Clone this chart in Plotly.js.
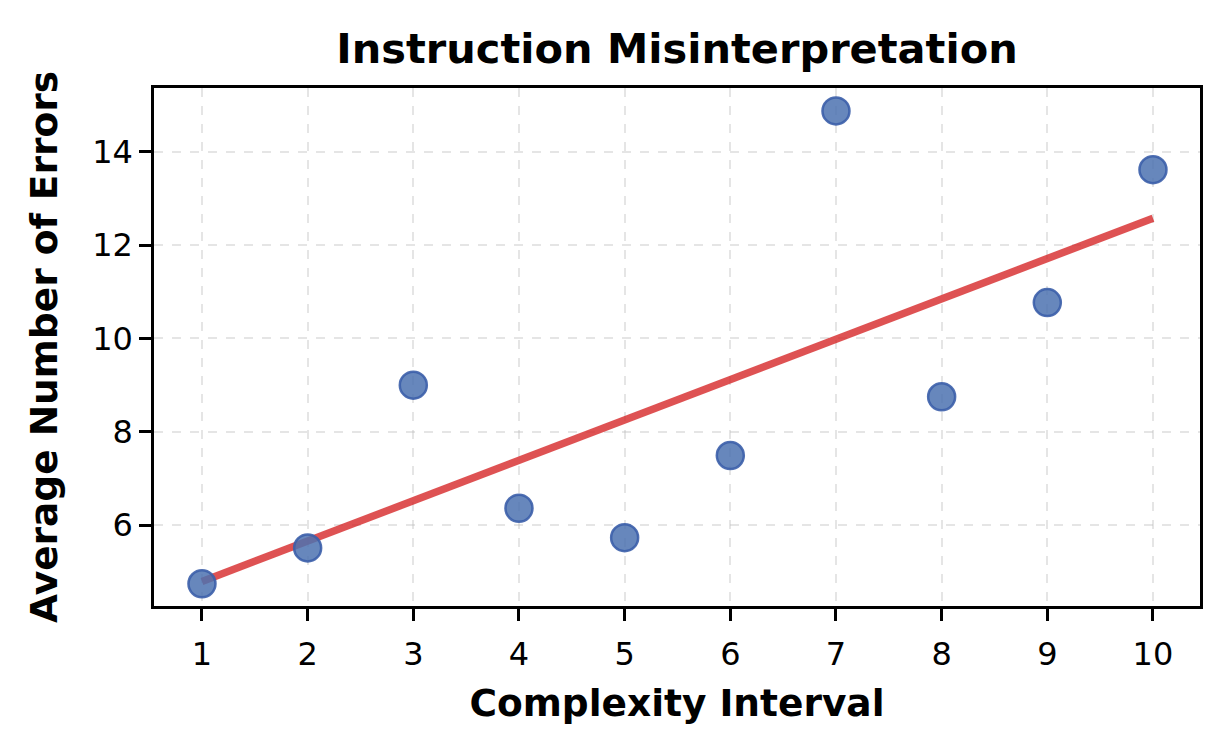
<!DOCTYPE html>
<html>
<head>
<meta charset="utf-8">
<script src="https://cdn.plot.ly/plotly-3.0.1.min.js"></script>
<style>html,body{margin:0;padding:0;background:#fff;}#chart{width:1230px;height:752px;}</style>
</head>
<body>
<div id="chart"></div>
<script>
const complexity = [1, 2, 3, 4, 5, 6, 7, 8, 9, 10];
const avgErrors = [4.74, 5.51, 9.00, 6.36, 5.73, 7.49, 14.88, 8.75, 10.77, 13.62];
const xTickLabels = ['1','2','3','4','5','6','7','8','9','10'];
const yTickValues = [6, 8, 10, 12, 14];

// least-squares trend from the data
const n = complexity.length;
const mx = complexity.reduce((a,b)=>a+b,0)/n;
const my = avgErrors.reduce((a,b)=>a+b,0)/n;
let sxy = 0, sxx = 0;
for (let i = 0; i < n; i++) { sxy += (complexity[i]-mx)*(avgErrors[i]-my); sxx += (complexity[i]-mx)**2; }
const slope = sxy/sxx, intercept = my - slope*mx;
const trendX = [complexity[0], complexity[n-1]];
const trendY = trendX.map(x => intercept + slope*x);

const font = "DejaVu Sans, sans-serif";
const traces = [
  {x: trendX, y: trendY, mode: 'lines', type: 'scatter',
   line: {color: 'rgba(214,39,40,0.8)', width: 7.5}, hoverinfo: 'skip', showlegend: false},
  {x: complexity, y: avgErrors, mode: 'markers', type: 'scatter',
   marker: {size: 27, color: 'rgba(76,114,176,0.85)', line: {color: 'rgba(60,95,170,0.9)', width: 2.5}},
   showlegend: false}
];
const axisCommon = {
  showline: true, mirror: true, linecolor: '#000', linewidth: 2.5,
  ticks: 'outside', ticklen: 12, tickwidth: 2.5, tickcolor: '#000',
  showgrid: true, gridcolor: 'rgba(190,190,190,0.4)', griddash: 'dash', gridwidth: 2,
  zeroline: false, tickfont: {family: font, size: 32, color: '#000'}
};
const layout = {
  width: 1230, height: 752,
  margin: {l: 154, r: 30, t: 88, b: 146},
  paper_bgcolor: '#fff', plot_bgcolor: '#fff',
  font: {family: font, color: '#000', size: 32},
  title: {text: '<b>Instruction Misinterpretation</b>', font: {family: font, size: 41.5, color: '#000'},
          x: 0.5, xanchor: 'center', xref: 'paper', y: 0.935, yref: 'container', yanchor: 'middle'},
  xaxis: Object.assign({}, axisCommon, {
          range: [0.546, 10.445], tickvals: complexity, ticktext: xTickLabels, ticklabelstandoff: 6,
          title: {text: '<b>Complexity Interval</b>', font: {family: font, size: 37.5}, standoff: 18}}),
  yaxis: Object.assign({}, axisCommon, {
          range: [4.264, 15.371], tickvals: yTickValues,
          title: {text: '<b>Average Number of Errors</b>', font: {family: font, size: 37.5}, standoff: 24}})
};
Plotly.newPlot('chart', traces, layout, {displayModeBar: false});
</script>
</body>
</html>
